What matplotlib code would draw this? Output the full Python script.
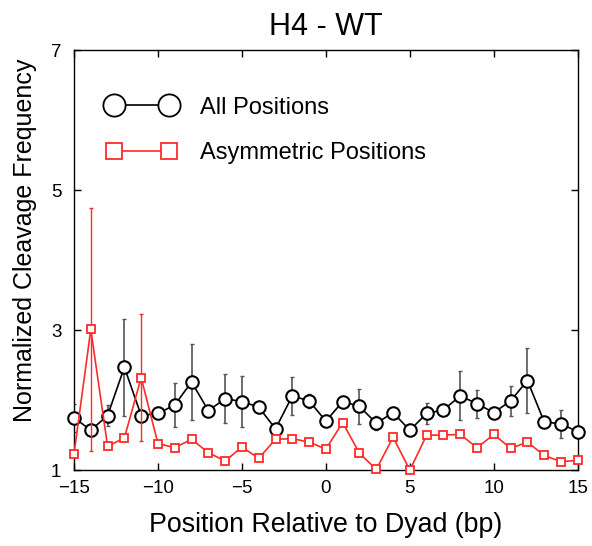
import matplotlib
matplotlib.use("Agg")
import matplotlib.pyplot as plt
from matplotlib.lines import Line2D
import numpy as np

plt.rcParams['font.family'] = ['Liberation Sans', 'DejaVu Sans']

positions = list(range(-15, 16))
all_vals = [1.75, 1.57, 1.78, 2.47, 1.78, 1.81, 1.93, 2.26, 1.85, 2.02, 1.98, 1.90, 1.59, 2.06, 1.99, 1.70,
            1.98, 1.91, 1.67, 1.82, 1.57, 1.81, 1.86, 2.06, 1.95, 1.82, 1.99, 2.28, 1.69, 1.66, 1.55]
all_err = [0.20, 0.08, 0.15, 0.69, 0.05, 0.07, 0.32, 0.54, 0.03, 0.35, 0.37, 0.05, 0.04, 0.27, 0.10, 0.04,
           0.05, 0.25, 0.10, 0.03, 0.03, 0.15, 0.03, 0.35, 0.20, 0.03, 0.21, 0.46, 0.03, 0.20, 0.03]
asym_vals = [1.23, 3.01, 1.34, 1.46, 2.32, 1.38, 1.32, 1.44, 1.25, 1.13, 1.33, 1.17, 1.44, 1.45, 1.40, 1.30,
             1.68, 1.24, 1.01, 1.47, 1.00, 1.50, 1.50, 1.51, 1.32, 1.51, 1.31, 1.40, 1.21, 1.12, 1.14]
asym_err = [0, 1.74, 0, 0, 0.91, 0, 0, 0, 0, 0, 0, 0, 0, 0, 0, 0,
            0, 0, 0, 0, 0, 0, 0, 0, 0, 0, 0, 0, 0, 0, 0]

xticks = [-15, -10, -5, 0, 5, 10, 15]
yticks = [1, 3, 5, 7]

fig = plt.figure(figsize=(5.92, 5.46), dpi=100)
ax = fig.add_axes([0.125, 0.139, 0.851, 0.769])

ax.errorbar(positions, all_vals, yerr=all_err, fmt='none', ecolor='#555555', elinewidth=1.2,
            capsize=1.5, capthick=1, zorder=2)
ax.plot(positions, all_vals, '-', color='black', lw=1.2, marker='o', ms=9,
        mfc='white', mec='black', mew=1.5, zorder=3, clip_on=False)

ax.errorbar(positions, asym_vals, yerr=asym_err, fmt='none', ecolor='#ff2a2a', elinewidth=1.0,
            capsize=1.5, capthick=1, zorder=4)
ax.plot(positions, asym_vals, '-', color='#ff2a2a', lw=1.2, marker='s', ms=5.5,
        mfc='white', mec='#ff2a2a', mew=1.3, zorder=5, clip_on=False)

ax.set_xlim(-15, 15)
ax.set_ylim(1, 7)
ax.set_xticks(xticks)
ax.set_yticks(yticks)
ax.set_xticklabels([str(t).replace('-', '\u2212') for t in xticks])
ax.tick_params(direction='in', top=True, right=True, labelsize=13.5, length=5, width=1)
ax.tick_params(axis='x', pad=7)
ax.tick_params(axis='y', pad=9)
for s in ax.spines.values():
    s.set_linewidth(1.0)

ax.set_title('H4 - WT', fontsize=22, pad=11)
ax.set_xlabel('Position Relative to Dyad (bp)', fontsize=19.3, labelpad=11)
ax.set_ylabel('Normalized Cleavage Frequency', fontsize=18, labelpad=10)
ax.yaxis.label.set_y(0.548)

h1 = Line2D([], [], color='black', lw=1.2, marker='o', ms=16, mfc='white', mec='black', mew=1.3)
h2 = Line2D([], [], color='#ff2a2a', lw=1.2, marker='s', ms=11, mfc='white', mec='#ff2a2a', mew=1.3)
ax.legend([h1, h2], ['All Positions', 'Asymmetric Positions'], loc='upper left',
          bbox_to_anchor=(0.024, 0.94), frameon=False, numpoints=2, handlelength=2.93,
          handletextpad=1.0, labelspacing=1.0, fontsize=17)

fig.savefig('out.png', dpi=100)
